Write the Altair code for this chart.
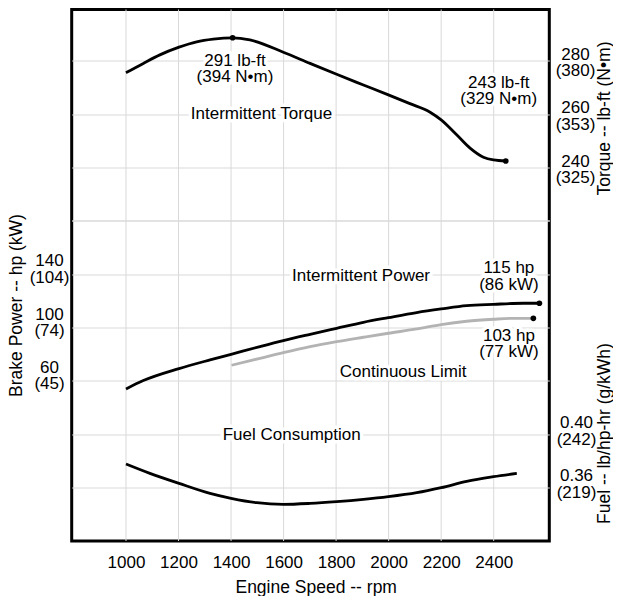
import altair as alt
import pandas as pd

FONT = "Liberation Sans"

# ---------------- data ----------------
rpm_ticks = [1000, 1200, 1400, 1600, 1800, 2000, 2200, 2400]

torque_rpm = [1000, 1066, 1129, 1202, 1269, 1332, 1406, 1472, 1599, 1701, 1802,
              1904, 1999, 2081, 2158, 2200, 2259, 2310, 2361, 2399, 2446]
torque_lbft = [275.6, 279.1, 282.3, 285.2, 287.2, 288.2, 288.7, 287.9, 283.3, 279.1, 275.0,
               271.0, 267.3, 264.0, 260.8, 257.9, 252.3, 247.3, 243.9, 242.9, 242.5]
torque_dot_rpm = [1406, 2446]
torque_dot_lbft = [288.7, 242.5]

power_rpm = [1000, 1066, 1202, 1320, 1400, 1510, 1599, 1701, 1802, 1904, 1999,
             2107, 2200, 2297, 2399, 2513, 2574]
power_hp = [54.0, 60.3, 69.3, 75.8, 80.0, 85.8, 90.3, 95.0, 99.5, 104.0, 107.5,
            111.3, 114.0, 116.5, 117.5, 118.3, 118.3]
power_dot_rpm = [2574]
power_dot_hp = [118.3]

cont_rpm = [1402, 1510, 1599, 1701, 1802, 1904, 1999, 2107, 2200, 2297, 2399, 2475, 2551]
cont_hp = [71.8, 77.0, 81.3, 85.8, 89.5, 92.8, 95.8, 99.0, 102.3, 104.8, 106.3, 107.0, 107.0]
cont_dot_rpm = [2551]
cont_dot_hp = [107.0]

fuel_rpm = [1000, 1091, 1202, 1320, 1400, 1498, 1599, 1701, 1802, 1904, 1999,
            2107, 2200, 2297, 2399, 2488]
fuel_lbhphr = [0.3777, 0.3707, 0.3632, 0.3557, 0.3520, 0.3487, 0.3475, 0.3482, 0.3495,
               0.3512, 0.3532, 0.3562, 0.3600, 0.3647, 0.3682, 0.3707]

torque_tick_vals = [240, 260, 280]
torque_tick_nm = ["(325)", "(353)", "(380)"]
power_tick_vals = [60, 100, 140]
power_tick_kw = ["(45)", "(74)", "(104)"]
fuel_tick_vals = [0.36, 0.40]
fuel_tick_g = ["(219)", "(242)"]

torque_notes = ["291 lb-ft\n(394 N•m)", "243 lb-ft\n(329 N•m)", "Intermittent Torque"]
torque_note_rpm = [1415, 2419, 1516]
torque_note_val = [280.0, 271.9, 260.0]

power_notes = ["Intermittent Power", "115 hp\n(86 kW)", "103 hp\n(77 kW)", "Continuous Limit"]
power_note_rpm = [1895, 2458, 2458, 2055]
power_note_val = [138.5, 144.4, 94.1, 67.1]

fuel_notes = ["Fuel Consumption"]
fuel_note_rpm = [1631]
fuel_note_val = [0.3995]

# ---------------- helpers ----------------
def label_expr(vals, subs, fmt):
    expr = ""
    for v, s in zip(vals, subs):
        expr += f"abs(datum.value - {v}) < 1e-6 ? ['{fmt(v)}', '{s}'] : "
    return expr + "''"

GRID = "#d9d9d9"

x_scale = alt.Scale(domain=[793.3, 2611.7], nice=False, zero=False)
x_axis = alt.Axis(values=rpm_ticks, format="d", grid=False, labelPadding=13.5,
                  labelOverlap=False, labelFlush=False,
                  title="Engine Speed -- rpm", titleX=244, titleY=37.7,
                  titleBaseline="top", titleAlign="center")

t_scale = alt.Scale(domain=[100, 299.31], nice=False, zero=False)
p_scale = alt.Scale(domain=[-60, 338.6], nice=False, zero=False)
f_scale = alt.Scale(domain=[0.32, 0.71862], nice=False, zero=False)

torque_axis = alt.Axis(
    orient="right", values=[220] + torque_tick_vals, grid=True,
    labelExpr=label_expr(torque_tick_vals, torque_tick_nm, lambda v: str(v)),
    labelAlign="center", labelBaseline="middle", labelPadding=25.7, labelOffset=-6.5,
    labelOverlap=False, labelFlush=False,
    title="Torque -- lb-ft (N•m)", titleAngle=270, titleX=54.7, titleY=108.5,
    titleAlign="center", titleBaseline="middle")

power_axis = alt.Axis(
    orient="left", values=power_tick_vals + [180], grid=True,
    labelExpr=label_expr(power_tick_vals, power_tick_kw, lambda v: str(v)),
    labelAlign="center", labelBaseline="middle", labelPadding=22.7, labelOffset=-13.5,
    labelOverlap=False, labelFlush=False,
    title="Brake Power -- hp (kW)", titleAngle=270, titleX=-54.7, titleY=295.5,
    titleAlign="center", titleBaseline="middle")

fuel_axis = alt.Axis(
    orient="right", values=fuel_tick_vals, grid=True,
    labelExpr=label_expr(fuel_tick_vals, fuel_tick_g, lambda v: f"{v:.2f}"),
    labelAlign="center", labelBaseline="middle", labelPadding=26.7, labelOffset=-11.7,
    labelOverlap=False, labelFlush=False,
    title="Fuel -- lb/hp-hr (g/kWh)", titleAngle=270, titleX=54.7, titleY=423.5,
    titleAlign="center", titleBaseline="middle")

text_style = dict(font=FONT, fontSize=17, align="center", baseline="middle",
                  lineBreak="\n", lineHeight=16.5)


def enc(chart, yscale, yaxis, text=False):
    e = dict(x=alt.X("rpm:Q", scale=x_scale, axis=x_axis),
             y=alt.Y("val:Q", scale=yscale, axis=yaxis))
    if text:
        e["text"] = alt.Text("note:N")
    return chart.encode(**e)


def notes_pair(df, yscale, yaxis):
    halo = enc(alt.Chart(df).mark_text(color="white", stroke="white", strokeWidth=7,
                                       strokeJoin="round", **text_style),
               yscale, yaxis, text=True)
    txt = enc(alt.Chart(df).mark_text(color="black", **text_style), yscale, yaxis, text=True)
    return halo, txt

# ---------------- vertical grid (rpm) ----------------
rules = alt.Chart(pd.DataFrame({"rpm": rpm_ticks})).mark_rule(
    color=GRID, strokeWidth=1).encode(x=alt.X("rpm:Q", scale=x_scale, axis=x_axis))

# ---------------- torque ----------------
t_df = pd.DataFrame({"rpm": torque_rpm, "val": torque_lbft})
t_dots = pd.DataFrame({"rpm": torque_dot_rpm, "val": torque_dot_lbft})
t_notes = pd.DataFrame({"rpm": torque_note_rpm, "val": torque_note_val, "note": torque_notes})
t_halo, t_text = notes_pair(t_notes, t_scale, torque_axis)
t_line = enc(alt.Chart(t_df).mark_line(color="black", strokeWidth=2.8, interpolate="monotone"),
             t_scale, torque_axis)
t_pts = enc(alt.Chart(t_dots).mark_circle(color="black", size=32, opacity=1), t_scale, torque_axis)
torque_layer = alt.layer(t_halo, t_line, t_pts, t_text)

# ---------------- power ----------------
p_df = pd.DataFrame({"rpm": power_rpm, "val": power_hp})
c_df = pd.DataFrame({"rpm": cont_rpm, "val": cont_hp})
p_dots = pd.DataFrame({"rpm": power_dot_rpm + cont_dot_rpm, "val": power_dot_hp + cont_dot_hp})
p_notes = pd.DataFrame({"rpm": power_note_rpm, "val": power_note_val, "note": power_notes})
p_halo, p_text = notes_pair(p_notes, p_scale, power_axis)
p_line = enc(alt.Chart(p_df).mark_line(color="black", strokeWidth=2.8, interpolate="monotone"),
             p_scale, power_axis)
c_line = enc(alt.Chart(c_df).mark_line(color="#b3b3b3", strokeWidth=2.8, interpolate="monotone"),
             p_scale, power_axis)
p_pts = enc(alt.Chart(p_dots).mark_circle(color="black", size=32, opacity=1), p_scale, power_axis)
power_layer = alt.layer(p_halo, p_line, c_line, p_pts, p_text)

# ---------------- fuel ----------------
f_df = pd.DataFrame({"rpm": fuel_rpm, "val": fuel_lbhphr})
f_notes = pd.DataFrame({"rpm": fuel_note_rpm, "val": fuel_note_val, "note": fuel_notes})
f_halo, f_text = notes_pair(f_notes, f_scale, fuel_axis)
f_line = enc(alt.Chart(f_df).mark_line(color="black", strokeWidth=2.8, interpolate="monotone"),
             f_scale, fuel_axis)
fuel_layer = alt.layer(f_halo, f_line, f_text)

chart = (
    alt.layer(rules, torque_layer, power_layer, fuel_layer)
    .resolve_scale(y="independent")
    .properties(width=477.6, height=531.5,
                autosize=alt.AutoSizeParams(type="none"),
                padding={"left": 63.7, "top": 1.5, "right": 63.7, "bottom": 55},
                background="white")
    .configure(font=FONT)
    .configure_view(stroke="black", strokeWidth=3)
    .configure_axis(labelFont=FONT, titleFont=FONT, labelColor="black", titleColor="black",
                    labelFontSize=17, titleFontSize=17.5, titleFontWeight="normal",
                    gridColor=GRID, gridWidth=1, domain=False, ticks=False, tickSize=0,
                    labelLineHeight=16.5)
)

chart.save("out.html", embed_options={"renderer": "svg", "actions": False})
